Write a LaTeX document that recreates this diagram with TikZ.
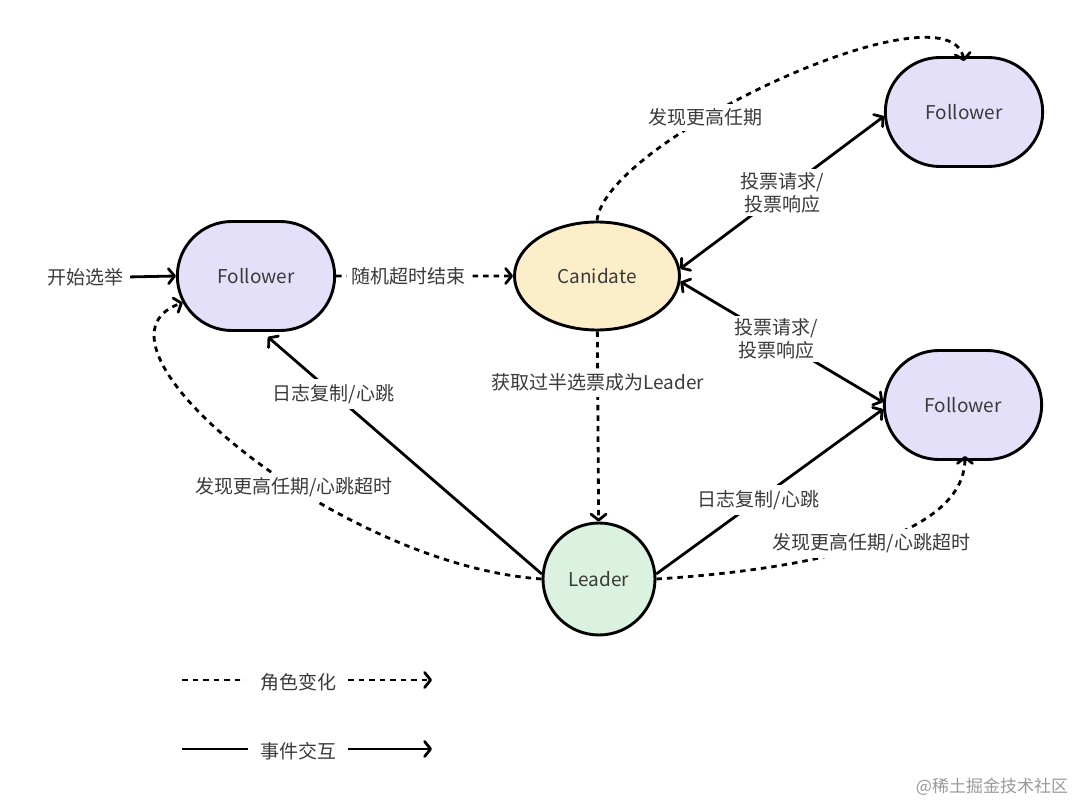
\documentclass[tikz,border=0pt]{standalone}
\usepackage{fontspec}
\setmainfont{Noto Sans CJK SC}
\usetikzlibrary{arrows.meta,shapes.misc,shapes.geometric}
\definecolor{txt}{HTML}{3A3A3A}
\definecolor{folfill}{HTML}{E4E0FA}
\definecolor{canfill}{HTML}{FCEEC9}
\definecolor{leadfill}{HTML}{DAF2DF}
\begin{document}
\begin{tikzpicture}[x=1pt,y=-1pt,
  every node/.style={font=\fontsize{19}{23}\selectfont, text=txt},
  statebox/.style={draw=black, line width=2.9pt},
  folbox/.style={statebox, rounded rectangle, fill=folfill, minimum width=164pt, minimum height=109pt},
  tip/.style={-{Straight Barb[length=6pt,width=15pt,line join=round,line cap=round]}},
  bothtip/.style={{Straight Barb[length=6pt,width=15pt,line join=round,line cap=round]}-{Straight Barb[length=6pt,width=15pt,line join=round,line cap=round]}},
  solidarr/.style={line width=2.8pt, tip},
  solidboth/.style={line width=2.8pt, bothtip},
  dotarr/.style={line width=2.8pt, dash pattern=on 5.5pt off 5pt, tip},
  dotline/.style={line width=2.8pt, dash pattern=on 5.5pt off 5pt},
  lbl/.style={fill=white, inner sep=5pt, align=center}
]
\useasboundingbox (0,0) rectangle (1080,802);

% nodes
\node[folbox] (fL) at (256,276) {Follower};
\node[statebox, ellipse, fill=canfill, minimum width=165pt, minimum height=108pt] (cand) at (597,276) {Canidate};
\node[folbox] (fTR) at (964,112) {Follower};
\node[folbox] (fBR) at (963,405) {Follower};
\node[statebox, circle, fill=leadfill, minimum size=112pt] (leader) at (599,579) {Leader};
\node[inner sep=4pt] (start) at (85,277) {开始选举};

% start
\draw[solidarr, shorten <=3pt] (start.east) -- (fL.west);

% follower -> candidate
\draw[dotarr] (fL) -- node[lbl, pos=0.41] {随机超时结束} (cand);

% candidate -> top follower (higher term)
\draw[dotarr] (cand.north) .. controls (605,140) and (950,-20) .. node[lbl, pos=0.36] {发现更高任期} ([yshift=-5pt]fTR.north);

% vote requests
\draw[solidboth] (cand.5) -- node[lbl, pos=0.5, inner sep=3pt] {投票请求/\\投票响应} (fTR.183);
\draw[solidboth] (cand.-4) -- node[lbl, pos=0.475, inner sep=3pt] {投票请求/\\投票响应} (fBR.178);

% candidate -> leader
\draw[dotarr] (cand) -- node[lbl, pos=0.27] {获取过半选票成为Leader} (leader);

% leader -> left follower
\draw[solidarr] (leader.175) -- node[lbl, pos=0.76] {日志复制/心跳} ([yshift=-5pt]fL.-78);
\draw[dotarr] (leader.180) .. controls (337,565) and (69,343) .. node[lbl, pos=0.4] {发现更高任期/心跳超时} (fL.200);

% leader -> bottom right follower
\draw[solidarr] (leader.5) -- node[lbl, pos=0.45] {日志复制/心跳} (fBR.183);
\draw[dotarr] (leader.0) .. controls (800,570) and (965,540) .. node[lbl, pos=0.52] {发现更高任期/心跳超时} ([yshift=5pt]fBR.-88);

% legend
\coordinate (la1) at (182,680);
\coordinate (la2) at (245,680);
\coordinate (la3) at (348,680);
\coordinate (la4) at (432,680);
\node (lg1) at (298,682) {角色变化};
\draw[dotline] (la1) -- (la2);
\draw[dotarr] (la3) -- (la4);
\coordinate (lb1) at (182,749);
\coordinate (lb2) at (248,749);
\coordinate (lb3) at (348,749);
\coordinate (lb4) at (432,749);
\node (lg2) at (298,751) {事件交互};
\draw[line width=2.8pt] (lb1) -- (lb2);
\draw[solidarr] (lb3) -- (lb4);

% watermark
\node[font=\fontsize{17}{20}\selectfont, text=black!40] (wm) at (992,787) {@稀土掘金技术社区};
\end{tikzpicture}
\end{document}
